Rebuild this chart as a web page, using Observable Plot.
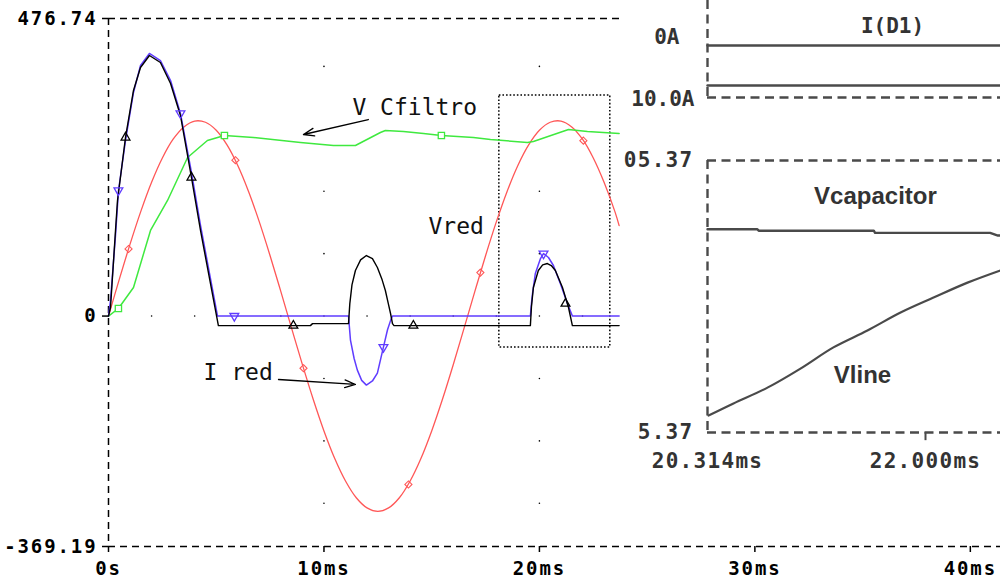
<!DOCTYPE html>
<html><head><meta charset="utf-8">
<script src="https://cdn.jsdelivr.net/npm/d3@7"></script>
<script src="https://cdn.jsdelivr.net/npm/@observablehq/plot@0.6"></script>
<style>
html,body{margin:0;padding:0;background:#fff;}
#chart{position:relative;width:1000px;height:579px;overflow:hidden;background:#fff;}
.abs{position:absolute;}
</style></head><body><div id="chart"></div>
<script>
// ---------- main chart: axes ----------
const xTicks = [0, 10, 20, 30, 40];
const xTickLabels = ["0s", "10ms", "20ms", "30ms", "40ms"];
const yTicks = [-369.19, 0, 476.74];
const yTickLabels = ["-369.19", "0", "476.74"];
const xDomain = [0, 41.4];

// grid dots (PSpice style)
const gridColsT = [10, 20];
const gridColsV = [400, 200, 100, -100, -200, -300];
const gridZeroRowT = [2, 4, 6, 8, 10, 12, 14, 16, 18, 20, 22];

// ---------- series (time in ms) ----------
const vredT = [0,0.5,1,1.5,2,2.5,3,3.5,4,4.5,5,5.5,6,6.5,7,7.5,8,8.5,9,9.5,10,10.5,11,11.5,12,12.5,13,13.5,14,14.5,15,15.5,16,16.5,17,17.5,18,18.5,19,19.5,20,20.5,21,21.5,22,22.5,23,23.5,23.7];
const vredV = [0,58.7,115.2,167.7,214.3,253.2,283.3,303.0,312.4,310.5,297.7,274.2,241.3,199.7,150.9,96.7,39.1,-19.7,-77.9,-133.3,-184.0,-228.2,-264.2,-291.1,-307.4,-313.0,-307.4,-291.1,-264.2,-228.2,-184.0,-133.3,-77.9,-19.7,39.1,96.7,150.9,199.7,241.3,274.2,297.7,310.5,312.4,303.0,283.3,253.2,214.3,167.7,145];
const vredMarkT = [0.93, 5.89, 9.05, 13.92, 17.26, 22.04];
const vredMarkV = [107.5, 249.7, -83.6, -269.8, 69.6, 281];

const vcfT = [0,0.46,1.16,1.95,2.74,3.67,4.59,5.38,6.73,8.91,10.44,11.46,12.62,12.85,13.69,14.62,15.45,16.94,17.73,19.44,19.72,21.35,22.23,23.7];
const vcfV = [0,12.1,45.8,137.1,185.2,254.0,281.3,289.3,286.1,278.1,273.3,273.3,294.1,297.3,295.7,292.5,289.3,286.1,282.9,278.1,279.7,298.9,295.7,292.5];
const vcfMarkT = [0.46, 5.38, 15.45];
const vcfMarkV = [12.1, 289.3, 289.3];

const blackT = [0,0.093,0.325,0.418,0.789,1.16,1.485,1.90,2.41,2.88,3.34,3.85,4.27,5.10,9.37,9.47,11.14,11.20,11.30,11.46,11.70,11.97,12.25,12.48,12.70,12.85,13.00,13.09,13.18,13.25,19.58,19.63,19.72,19.95,20.15,20.37,20.55,20.74,21.07,21.35,21.53,23.7];
const blackV = [0,13.7,137.1,185.2,286.1,361.4,398.2,417.5,406.3,372.6,321.4,222.0,137.1,-15.3,-15.3,-12.1,-12.1,20,50,73.0,90,97.0,92,77.8,58,41.0,18,4.1,-12.1,-15.3,-15.3,15,45.8,73.0,82,84.2,81,73.0,45.8,13.7,-15.3,-15.3];
const blackMarkT = [0.79, 3.85, 8.58, 14.15, 21.21];
const blackMarkV = [286.1, 222.0, -15.3, -15.3, 20];

const blueT = [0,0.093,0.325,0.464,0.789,1.16,1.485,1.90,2.41,2.88,3.34,3.85,4.27,5.06,11.14,11.23,11.40,11.55,11.75,11.97,12.25,12.48,12.76,12.95,13.09,13.18,19.58,19.63,19.68,19.81,20.05,20.19,20.42,20.65,20.97,21.30,21.53,23.7];
const blueV = [0,24.9,129.1,201.2,281.3,358.2,401.5,420.7,409.4,377.4,324.6,230.0,145.1,0,0,-38.5,-68,-86.6,-103,-110.6,-104,-91.4,-49.7,-22,-7.3,0,0,20,36.1,68.2,92.2,100.2,93.8,81.0,52.1,20.1,0,0];
const blueMarkT = [0.46, 3.34, 5.84, 12.76, 20.19];
const blueMarkV = [201.2, 324.6, 0, -49.7, 100];

// annotations
const labelText = ["V Cfiltro", "Vred", "I red"];
const labelT = [11.32, 14.85, 4.41];
const labelV = [334.2, 143.5, -90.4];
const arrowT1 = [12.06, 7.89];
const arrowV1 = [314.9, -101.6];
const arrowT2 = [9.05, 11.46];
const arrowV2 = [290.9, -109.6];
const zoomBoxT = [18.14, 23.29];
const zoomBoxV = [-50.4, 353.4];

// ---------- inset ----------
const insetXDomain = [20.314, 22.58];
const insetXTicks = [20.314, 22.0];
const insetXTickLabels = ["20.314ms", "22.000ms"];
const iYDomain = [-10, 6.1667];
const iYTicks = [-10, 0];
const iYTickLabels = ["10.0A", "0A"];
const id1T = [20.314, 22.58];
const id1AV = [-1.33, -1.33];
const id1BV = [-8.0, -8.0];
const vYDomain = [295.37, 305.37];
const vYTicks = [295.37, 305.37];
const vYTickLabels = ["5.37", "05.37"];
const vcapT = [20.314, 20.70, 20.71, 21.60, 21.61, 22.50, 22.56, 22.58];
const vcapV = [302.84, 302.84, 302.79, 302.79, 302.71, 302.71, 302.61, 302.61];
const vlineT = [20.322, 20.515, 20.778, 21.033, 21.288, 21.551, 21.807, 22.062, 22.325, 22.58];
const vlineV = [295.995, 296.44, 297.02, 297.72, 298.50, 299.12, 299.78, 300.33, 300.88, 301.33];
const insetLabelText = ["Vcapacitor", "Vline"];
const insetLabelT = [21.613, 21.513];
const insetLabelV = [304.05, 297.47];
const id1LabelT = [21.745];
const id1LabelV = [1.83];

// ---------- helpers ----------
const zip = (ts, vs) => ts.map((t, i) => ({t, v: vs[i]}));
const RED = "#ff5757", GREEN = "#3fe93f", BLUE = "#5f3cff", BLACK = "#000";
const GRAY = "#4a4a4a";
const MONO = "DejaVu Sans Mono";
const dash = {stroke: BLACK, strokeWidth: 1.5, strokeDasharray: "7,5"};
const idash = {stroke: GRAY, strokeWidth: 2.4, strokeDasharray: "9,5.5"};
const fmt = (ticks, labels) => d => labels[ticks.indexOf(d)];

const chart = document.getElementById("chart");

// ---------- main plot ----------
const gridDots = [];
gridColsT.forEach(t => gridColsV.forEach(v => gridDots.push({t, v})));
gridZeroRowT.forEach(t => gridDots.push({t, v: 0}));

const labels = labelText.map((s, i) => ({s, t: labelT[i], v: labelV[i]}));
const arrows = arrowT1.map((t, i) => ({t1: t, v1: arrowV1[i], t2: arrowT2[i], v2: arrowV2[i]}));

const main = Plot.plot({
  width: 1000, height: 579,
  marginLeft: 108, marginTop: 18, marginBottom: 33, marginRight: 0,
  x: {domain: xDomain, label: null},
  y: {domain: [yTicks[0], yTicks[2]], label: null},
  style: {background: "white", overflow: "visible"},
  marks: [
    Plot.ruleY([yTicks[2]], dash),
    Plot.ruleY([yTicks[0]], dash),
    Plot.ruleX([xDomain[0]], dash),
    Plot.dot(gridDots, {x: "t", y: "v", r: 0.8, fill: BLACK, stroke: null}),
    Plot.rect([{}], {x1: () => zoomBoxT[0], x2: () => zoomBoxT[1], y1: () => zoomBoxV[0], y2: () => zoomBoxV[1], fill: "none", stroke: BLACK, strokeWidth: 1.5, strokeDasharray: "1.6,2"}),
    Plot.line(zip(vredT, vredV), {x: "t", y: "v", stroke: RED, strokeWidth: 1.3, curve: "catmull-rom"}),
    Plot.dot(zip(vredMarkT, vredMarkV), {x: "t", y: "v", symbol: "diamond2", r: 3.2, stroke: RED, strokeWidth: 1.1}),
    Plot.line(zip(vcfT, vcfV), {x: "t", y: "v", stroke: GREEN, strokeWidth: 1.5}),
    Plot.dot(zip(vcfMarkT, vcfMarkV), {x: "t", y: "v", symbol: "square2", r: 4, stroke: GREEN, strokeWidth: 1.3, fill: "white"}),
    Plot.line(zip(blueT, blueV), {x: "t", y: "v", stroke: BLUE, strokeWidth: 1.5}),
    Plot.line(zip(blackT, blackV), {x: "t", y: "v", stroke: BLACK, strokeWidth: 1.4}),
    Plot.dot(zip(blueMarkT, blueMarkV), {x: "t", y: "v", symbol: "triangle2", r: 4.2, rotate: 180, stroke: BLUE, strokeWidth: 1.3}),
    Plot.dot(zip(blackMarkT, blackMarkV), {x: "t", y: "v", symbol: "triangle2", r: 4.2, stroke: BLACK, strokeWidth: 1.3}),
    Plot.arrow(arrows, {x1: "t1", y1: "v1", x2: "t2", y2: "v2", stroke: BLACK, strokeWidth: 1.3, headLength: 13, headAngle: 40, bend: 0}),
    Plot.text(labels, {x: "t", y: "v", text: "s", textAnchor: "start", fontFamily: MONO, fontSize: 23, fill: "#111", ariaLabel: "annot"}),
    Plot.axisX({ticks: xTicks, tickFormat: fmt(xTicks, xTickLabels), label: null, tickSize: 6, tickPadding: 9, fontSize: 19, fontFamily: MONO, fontWeight: "bold", stroke: BLACK, fill: BLACK, strokeWidth: 1.5}),
    Plot.axisY({ticks: yTicks, tickFormat: fmt(yTicks, yTickLabels), label: null, tickSize: 6, tickPadding: 5, fontSize: 19, fontFamily: MONO, fontWeight: "bold", stroke: BLACK, fill: BLACK, strokeWidth: 1.5})
  ]
});
main.classList.add("abs");
main.style.left = "0px"; main.style.top = "0px";
chart.appendChild(main);

// ---------- inset background ----------
const inset = document.createElement("div");
inset.className = "abs";
Object.assign(inset.style, {left: "620px", top: "0px", width: "380px", height: "480px", background: "white", overflow: "hidden"});
chart.appendChild(inset);

// top panel I(D1)
const topPanel = Plot.plot({
  width: 380, height: 110,
  marginLeft: 87, marginRight: 0, marginTop: 0, marginBottom: 13,
  x: {domain: insetXDomain, axis: null},
  y: {domain: iYDomain, axis: null},
  style: {background: "transparent", overflow: "visible"},
  marks: [
    Plot.ruleX([insetXDomain[0]], idash),
    Plot.ruleY([iYDomain[0]], idash),
    Plot.line(zip(id1T, id1AV), {x: "t", y: "v", stroke: GRAY, strokeWidth: 2.4}),
    Plot.line(zip(id1T, id1BV), {x: "t", y: "v", stroke: GRAY, strokeWidth: 2.4}),
    Plot.text([{t: id1LabelT[0], v: id1LabelV[0], s: "I(D1)"}], {x: "t", y: "v", text: "s", fontFamily: MONO, fontWeight: "bold", fontSize: 21, fill: "#333", ariaLabel: "itick"}),
    Plot.text([{v: iYTicks[1], s: iYTickLabels[1]}], {x: () => insetXDomain[0], y: "v", text: "s", textAnchor: "end", dx: -28, fontFamily: MONO, fontWeight: "bold", fontSize: 21, fill: "#333", ariaLabel: "itick"}),
    Plot.text([{v: iYTicks[0], s: iYTickLabels[0]}], {x: () => insetXDomain[0], y: "v", text: "s", textAnchor: "end", dx: -13, dy: 2, fontFamily: MONO, fontWeight: "bold", fontSize: 21, fill: "#333", ariaLabel: "itick"})
  ]
});
topPanel.classList.add("abs");
topPanel.style.left = "0px"; topPanel.style.top = "0px";
inset.appendChild(topPanel);

// lower panel Vcapacitor / Vline
const insetLabels = insetLabelText.map((s, i) => ({s, t: insetLabelT[i], v: insetLabelV[i]}));
const lowPanel = Plot.plot({
  width: 380, height: 340,
  marginLeft: 87, marginRight: 0, marginTop: 20, marginBottom: 48,
  x: {domain: insetXDomain, label: null},
  y: {domain: vYDomain, label: null},
  style: {background: "transparent", overflow: "visible"},
  marks: [
    Plot.ruleX([insetXDomain[0]], idash),
    Plot.ruleY([vYDomain[0]], idash),
    Plot.ruleY([vYDomain[1]], idash),
    Plot.ruleX([insetXTicks[1]], {y1: vYDomain[0], y2: vYDomain[0] - 0.3, stroke: GRAY, strokeWidth: 2}),
    Plot.line(zip(vcapT, vcapV), {x: "t", y: "v", stroke: GRAY, strokeWidth: 2.4}),
    Plot.line(zip(vlineT, vlineV), {x: "t", y: "v", stroke: GRAY, strokeWidth: 2.2, curve: "catmull-rom"}),
    Plot.text(insetLabels, {x: "t", y: "v", text: "s", fontFamily: "Liberation Sans", fontWeight: "bold", fontSize: 24, fill: "#333"}),
    Plot.axisX({ticks: insetXTicks, tickFormat: fmt(insetXTicks, insetXTickLabels), label: null, tickSize: 0, tickPadding: 21, fontSize: 21, fontFamily: MONO, fontWeight: "bold", fill: "#333"}),
    Plot.axisY({ticks: vYTicks, tickFormat: fmt(vYTicks, vYTickLabels), label: null, tickSize: 0, tickPadding: 14, fontSize: 21, fontFamily: MONO, fontWeight: "bold", fill: "#333"})
  ]
});
lowPanel.classList.add("abs");
lowPanel.style.left = "0px"; lowPanel.style.top = "140px";
inset.appendChild(lowPanel);

// letter spacing for the pixel-font look
d3.select(main).selectAll("g[aria-label='x-axis tick label'] text, g[aria-label='y-axis tick label'] text").attr("letter-spacing", 1.9);
d3.select(main).selectAll("g[aria-label='annot'] text").attr("letter-spacing", 1.4);
d3.selectAll([topPanel, lowPanel]).selectAll("g[aria-label='x-axis tick label'] text, g[aria-label='y-axis tick label'] text, g[aria-label='itick'] text").attr("letter-spacing", 1.3);
</script></body></html>
